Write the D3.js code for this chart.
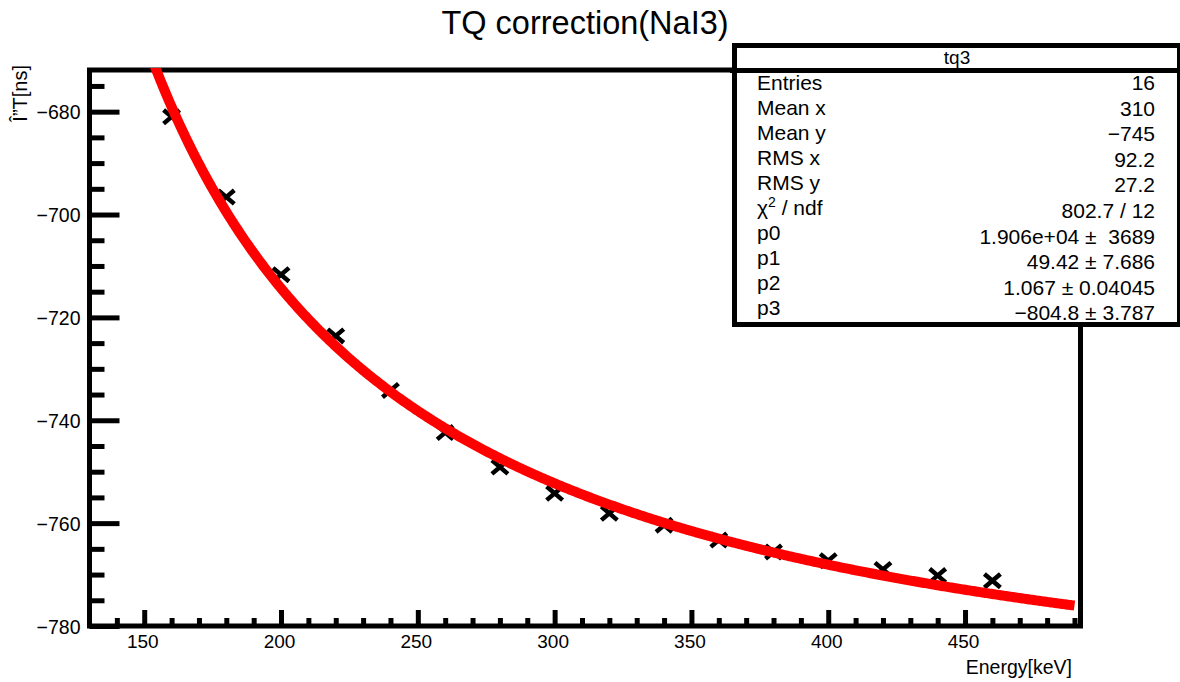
<!DOCTYPE html>
<html>
<head>
<meta charset="utf-8">
<script src="https://cdn.jsdelivr.net/npm/d3@7"></script>
<style>
  html, body { margin: 0; padding: 0; background: #fff; }
  svg { display: block; font-family: "Liberation Sans", Arial, sans-serif; }
  text { white-space: pre; }
</style>
</head>
<body>
<svg id="chart" width="1180" height="682"></svg>
<script>
// Measured time offset vs deposited energy
const energy = [160, 180, 200, 220, 240, 260, 280, 300, 320, 340, 360, 380, 400, 420, 440, 460];
const deltaT = [-681.0, -696.6, -711.7, -723.6, -734.2, -742.4, -749.1, -754.2,
                -758.1, -760.4, -763.3, -765.6, -767.3, -769.0, -770.2, -771.2];

// Fit result: f(x) = p0 / (x - p1)^p2 + p3
const fitParams = [1.906e4, 49.42, 1.067, -804.8];

const xTicks = [150, 200, 250, 300, 350, 400, 450];
const yTicks = [-780, -760, -740, -720, -700, -680];

const statLabels = ["Entries", "Mean x", "Mean y", "RMS x", "RMS y", "CHI2", "p0", "p1", "p2", "p3"];
const statValues = ["16", "310", "\u2212745", "92.2", "27.2", "802.7 / 12",
                    "1.906e+04 \u00b1  3689", "49.42 \u00b1 7.686", "1.067 \u00b1 0.04045", "\u2212804.8 \u00b1 3.787"];

const svg = d3.select("#chart");

const frame = { left: 89.5, right: 1080.5, top: 70, bottom: 626 };

const x = d3.scaleLinear().domain([130, 492.2]).range([frame.left, frame.right]);
const y = d3.scaleLinear().domain([-780, -671.9]).range([frame.bottom, frame.top]);

// Title
svg.append("text")
  .attr("x", 585).attr("y", 34)
  .attr("text-anchor", "middle")
  .attr("font-size", 32.5)
  .attr("fill", "#000")
  .text("TQ correction(NaI3)");

// Frame
svg.append("rect")
  .attr("x", frame.left).attr("y", frame.top)
  .attr("width", frame.right - frame.left).attr("height", frame.bottom - frame.top)
  .attr("fill", "none").attr("stroke", "#000").attr("stroke-width", 5);

// X axis ticks (inside the frame, pointing up)
const xMinor = d3.range(140, 491, 10).filter(v => v % 50 !== 0);
const xAxisMajor = d3.axisBottom(x).tickValues(xTicks).tickSizeInner(-16).tickSizeOuter(0).tickFormat(d3.format("d"));
const xAxisMinor = d3.axisBottom(x).tickValues(xMinor).tickSizeInner(-8).tickSizeOuter(0).tickFormat("");

const gxMinor = svg.append("g").attr("transform", `translate(0,${frame.bottom})`).call(xAxisMinor);
const gx = svg.append("g").attr("transform", `translate(0,${frame.bottom})`).call(xAxisMajor);
[gx, gxMinor].forEach(g => {
  g.select(".domain").remove();
  g.selectAll(".tick line").attr("stroke", "#000").attr("stroke-width", 5);
});
gx.selectAll(".tick text")
  .attr("y", 9).attr("dy", "0.71em")
  .attr("font-size", 19).attr("fill", "#000")
  .attr("font-family", "Liberation Sans, Arial, sans-serif")
  .attr("dx", -2);

// Y axis ticks (inside the frame, pointing right)
const yMinor = d3.range(-775, -671, 5).filter(v => v % 20 !== 0);
const yAxisMajor = d3.axisLeft(y).tickValues(yTicks).tickSizeInner(-30).tickSizeOuter(0)
  .tickFormat(d => "\u2212" + Math.abs(d));
const yAxisMinor = d3.axisLeft(y).tickValues(yMinor).tickSizeInner(-15).tickSizeOuter(0).tickFormat("");

const gyMinor = svg.append("g").attr("transform", `translate(${frame.left},0)`).call(yAxisMinor);
const gy = svg.append("g").attr("transform", `translate(${frame.left},0)`).call(yAxisMajor);
[gy, gyMinor].forEach(g => {
  g.select(".domain").remove();
  g.selectAll(".tick line").attr("stroke", "#000").attr("stroke-width", 5);
});
gy.selectAll(".tick text")
  .attr("x", -9).attr("dy", "0.36em")
  .attr("font-size", 19.5).attr("fill", "#000")
  .attr("font-family", "Liberation Sans, Arial, sans-serif");

// Axis titles
svg.append("text")
  .attr("x", 1072).attr("y", 674)
  .attr("text-anchor", "end")
  .attr("font-size", 19.5).attr("fill", "#000")
  .text("Energy[keV]");

svg.append("text")
  .attr("transform", "translate(27,65) rotate(-90)")
  .attr("text-anchor", "end")
  .attr("font-size", 20).attr("fill", "#000")
  .text("\u00ce\u201dT[ns]");

// Clip for plot content
svg.append("clipPath").attr("id", "plot-clip")
  .append("rect")
  .attr("x", frame.left).attr("y", frame.top - 2)
  .attr("width", frame.right - frame.left).attr("height", frame.bottom - frame.top + 2);

const plot = svg.append("g").attr("clip-path", "url(#plot-clip)");

// Data markers (X shape)
const m = 8;
plot.append("g").selectAll("path")
  .data(energy.map((e, i) => [e, deltaT[i]]))
  .join("path")
  .attr("transform", d => `translate(${x(d[0])},${y(d[1])})`)
  .attr("d", `M${-m},${-m * 0.85}L${m},${m * 0.85}M${-m},${m * 0.85}L${m},${-m * 0.85}`)
  .attr("stroke", "#000").attr("stroke-width", 4.5).attr("fill", "none");

// Fit curve
const [p0, p1, p2, p3] = fitParams;
const fitFn = e => p0 / Math.pow(e - p1, p2) + p3;
const curveX = d3.range(130, 490.5, 0.5);
plot.append("path")
  .datum(curveX)
  .attr("d", d3.line().x(e => x(e)).y(e => y(fitFn(e))))
  .attr("fill", "none").attr("stroke", "#ff0000").attr("stroke-width", 10);

// Statistics box
const box = { x: 734.5, y: 45.5, w: 445, h: 279, header: 70.5 };
const stats = svg.append("g");
stats.append("rect")
  .attr("x", box.x).attr("y", box.y).attr("width", box.w).attr("height", box.h)
  .attr("fill", "#fff").attr("stroke", "#000").attr("stroke-width", 5);
stats.append("line")
  .attr("x1", 730).attr("x2", box.x + box.w).attr("y1", box.header).attr("y2", box.header)
  .attr("stroke", "#000").attr("stroke-width", 5);
stats.append("text")
  .attr("x", 957).attr("y", 64).attr("text-anchor", "middle")
  .attr("font-size", 19).attr("fill", "#000").text("tq3");

const rowY = i => 90 + i * 25.0;
statLabels.forEach((lab, i) => {
  const t = stats.append("text")
    .attr("x", 757).attr("y", rowY(i))
    .attr("font-size", 21).attr("fill", "#000");
  if (lab === "CHI2") {
    t.append("tspan").text("\u03c7");
    t.append("tspan").attr("dy", -8).attr("font-size", 14).text("2");
    t.append("tspan").attr("dy", 8).text(" / ndf");
  } else {
    t.text(lab);
  }
});
statValues.forEach((val, i) => {
  stats.append("text")
    .attr("x", 1155).attr("y", rowY(i) + i * 0.6)
    .attr("text-anchor", "end")
    .attr("font-size", 21).attr("fill", "#000")
    .text(val);
});
</script>
</body>
</html>
